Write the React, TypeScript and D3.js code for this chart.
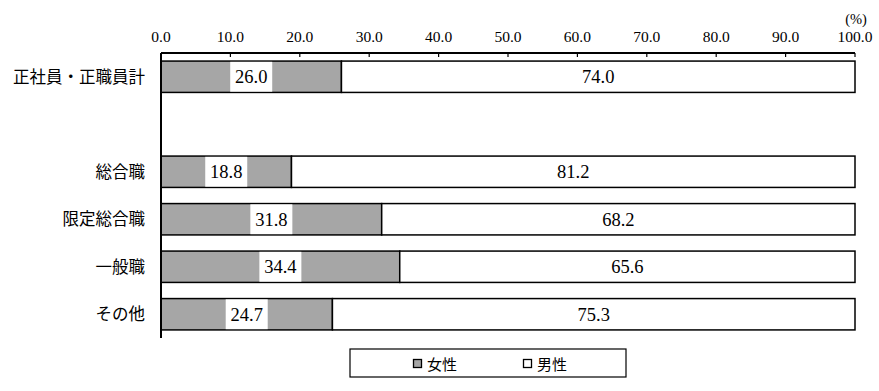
import React from "react";
import * as d3 from "d3";

const categories = ["正社員・正職員計", "", "総合職", "限定総合職", "一般職", "その他"];
const female = [26.0, null, 18.8, 31.8, 34.4, 24.7];
const male = [74.0, null, 81.2, 68.2, 65.6, 75.3];
const ticks = [0, 10, 20, 30, 40, 50, 60, 70, 80, 90, 100];
const seriesNames = ["女性", "男性"];
const colors = ["#a6a6a6", "#ffffff"];

export default function App() {
  const W = 879, H = 391;
  const left = 161, right = 855, top = 53, bottom = 338;
  const x = d3.scaleLinear().domain([0, 100]).range([left, right]);
  const y = d3.scaleBand().domain(categories.map((c, i) => String(i))).range([top, bottom]).paddingInner(0.34).paddingOuter(0.17);
  const serif = "'Liberation Serif', 'DejaVu Serif', serif";
  const sans = "'Noto Sans CJK JP', sans-serif";
  return (
    <svg width={W} height={H} style={{ position: "absolute", left: 0, top: 0, background: "#fff" }}>
      {ticks.map((t) => (
        <g key={t}>
          <text x={x(t)} y={42} textAnchor="middle" fontFamily={serif} fontSize={15.5} fill="#000">
            {t.toFixed(1)}
          </text>
          <line x1={x(t)} x2={x(t)} y1={top} y2={top + 4} stroke="#000" strokeWidth={1.2} />
        </g>
      ))}
      <text x={x(100) + 1} y={24} textAnchor="middle" fontFamily={serif} fontSize={14.5}>(%)</text>
      {categories.map((c, i) => {
        const f = female[i];
        const m = male[i];
        const yy = y(String(i))!;
        const bh = y.bandwidth();
        return (
          <g key={i}>
            {c && (
              <text x={145} y={yy + bh / 2 + 6} textAnchor="end" fontFamily={sans} fontSize={16.5} fill="#000">
                {c}
              </text>
            )}
            {f != null && m != null && (
              <g>
                <rect x={x(0)} y={yy} width={x(f) - x(0)} height={bh} fill={colors[0]} stroke="#000" strokeWidth={1.5} />
                <rect x={x(f)} y={yy} width={x(f + m) - x(f)} height={bh} fill={colors[1]} stroke="#000" strokeWidth={1.5} />
                <rect x={(x(0) + x(f)) / 2 - 21} y={yy + 0.75} width={42} height={bh - 1.5} fill="#fff" />
                <text x={(x(0) + x(f)) / 2} y={yy + bh / 2 + 6.5} textAnchor="middle" fontFamily={serif} fontSize={18.5}>
                  {f.toFixed(1)}
                </text>
                <text x={(x(f) + x(f + m)) / 2} y={yy + bh / 2 + 6.5} textAnchor="middle" fontFamily={serif} fontSize={18.5}>
                  {m.toFixed(1)}
                </text>
              </g>
            )}
          </g>
        );
      })}
      <line x1={left} x2={right} y1={top} y2={top} stroke="#000" strokeWidth={2} />
      <line x1={left} x2={left} y1={top} y2={bottom} stroke="#000" strokeWidth={2} />
      <rect x={350} y={349} width={276} height={28} fill="#fff" stroke="#000" strokeWidth={1.2} />
      {seriesNames.map((s, i) => (
        <g key={s}>
          <rect x={413.5 + i * 110} y={359.5} width={8} height={8} fill={colors[i]} stroke="#000" strokeWidth={1.3} />
          <text x={427 + i * 110} y={370} fontFamily={sans} fontSize={15}>{s}</text>
        </g>
      ))}
    </svg>
  );
}
